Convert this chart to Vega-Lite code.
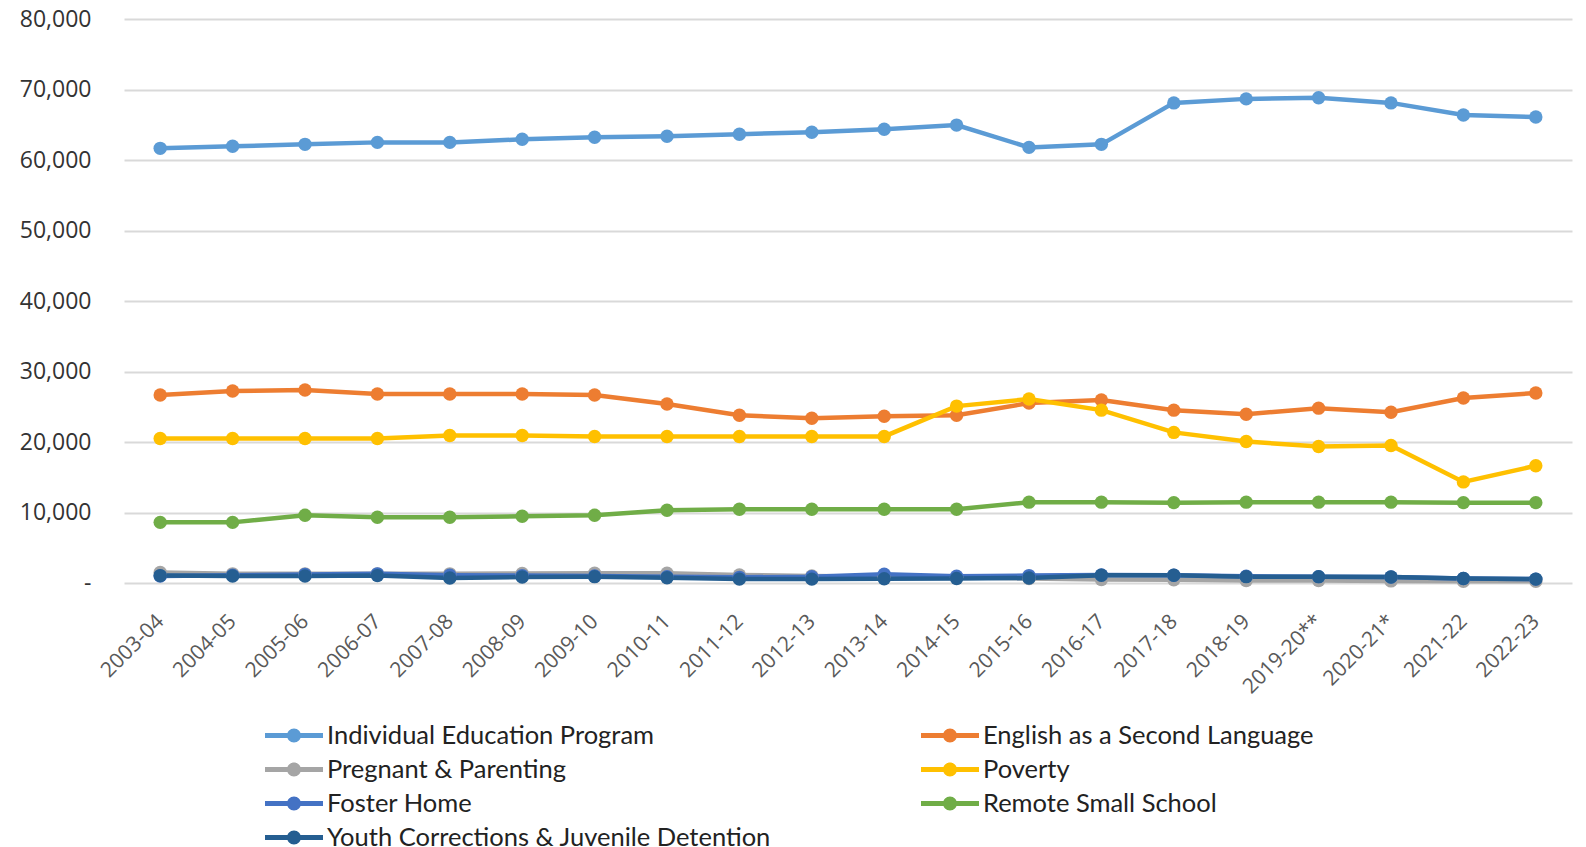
{
  "$schema": "https://vega.github.io/schema/vega-lite/v6.json",
  "width": 1448,
  "height": 564,
  "autosize": {"type": "none"},
  "padding": {"left": 124, "top": 19, "right": 14, "bottom": 264},
  "background": "white",
  "config": {"view": {"stroke": null}, "font": "Open Sans"},
  "data": {"values": [
    {"year": "2003-04", "series": "Individual Education Program", "value": 61650},
    {"year": "2004-05", "series": "Individual Education Program", "value": 61940},
    {"year": "2005-06", "series": "Individual Education Program", "value": 62220},
    {"year": "2006-07", "series": "Individual Education Program", "value": 62500},
    {"year": "2007-08", "series": "Individual Education Program", "value": 62500},
    {"year": "2008-09", "series": "Individual Education Program", "value": 62940},
    {"year": "2009-10", "series": "Individual Education Program", "value": 63230},
    {"year": "2010-11", "series": "Individual Education Program", "value": 63370},
    {"year": "2011-12", "series": "Individual Education Program", "value": 63660},
    {"year": "2012-13", "series": "Individual Education Program", "value": 63940},
    {"year": "2013-14", "series": "Individual Education Program", "value": 64370},
    {"year": "2014-15", "series": "Individual Education Program", "value": 64950},
    {"year": "2015-16", "series": "Individual Education Program", "value": 61790},
    {"year": "2016-17", "series": "Individual Education Program", "value": 62220},
    {"year": "2017-18", "series": "Individual Education Program", "value": 68100},
    {"year": "2018-19", "series": "Individual Education Program", "value": 68670},
    {"year": "2019-20**", "series": "Individual Education Program", "value": 68820},
    {"year": "2020-21*", "series": "Individual Education Program", "value": 68100},
    {"year": "2021-22", "series": "Individual Education Program", "value": 66380},
    {"year": "2022-23", "series": "Individual Education Program", "value": 66090},

    {"year": "2003-04", "series": "English as a Second Language", "value": 26670},
    {"year": "2004-05", "series": "English as a Second Language", "value": 27240},
    {"year": "2005-06", "series": "English as a Second Language", "value": 27380},
    {"year": "2006-07", "series": "English as a Second Language", "value": 26810},
    {"year": "2007-08", "series": "English as a Second Language", "value": 26810},
    {"year": "2008-09", "series": "English as a Second Language", "value": 26810},
    {"year": "2009-10", "series": "English as a Second Language", "value": 26670},
    {"year": "2010-11", "series": "English as a Second Language", "value": 25380},
    {"year": "2011-12", "series": "English as a Second Language", "value": 23800},
    {"year": "2012-13", "series": "English as a Second Language", "value": 23370},
    {"year": "2013-14", "series": "English as a Second Language", "value": 23660},
    {"year": "2014-15", "series": "English as a Second Language", "value": 23800},
    {"year": "2015-16", "series": "English as a Second Language", "value": 25520},
    {"year": "2016-17", "series": "English as a Second Language", "value": 25950},
    {"year": "2017-18", "series": "English as a Second Language", "value": 24520},
    {"year": "2018-19", "series": "English as a Second Language", "value": 23940},
    {"year": "2019-20**", "series": "English as a Second Language", "value": 24800},
    {"year": "2020-21*", "series": "English as a Second Language", "value": 24230},
    {"year": "2021-22", "series": "English as a Second Language", "value": 26240},
    {"year": "2022-23", "series": "English as a Second Language", "value": 26950},

    {"year": "2003-04", "series": "Pregnant & Parenting", "value": 1500},
    {"year": "2004-05", "series": "Pregnant & Parenting", "value": 1300},
    {"year": "2005-06", "series": "Pregnant & Parenting", "value": 1300},
    {"year": "2006-07", "series": "Pregnant & Parenting", "value": 1300},
    {"year": "2007-08", "series": "Pregnant & Parenting", "value": 1300},
    {"year": "2008-09", "series": "Pregnant & Parenting", "value": 1350},
    {"year": "2009-10", "series": "Pregnant & Parenting", "value": 1400},
    {"year": "2010-11", "series": "Pregnant & Parenting", "value": 1400},
    {"year": "2011-12", "series": "Pregnant & Parenting", "value": 1150},
    {"year": "2012-13", "series": "Pregnant & Parenting", "value": 1000},
    {"year": "2013-14", "series": "Pregnant & Parenting", "value": 900},
    {"year": "2014-15", "series": "Pregnant & Parenting", "value": 800},
    {"year": "2015-16", "series": "Pregnant & Parenting", "value": 650},
    {"year": "2016-17", "series": "Pregnant & Parenting", "value": 500},
    {"year": "2017-18", "series": "Pregnant & Parenting", "value": 450},
    {"year": "2018-19", "series": "Pregnant & Parenting", "value": 350},
    {"year": "2019-20**", "series": "Pregnant & Parenting", "value": 350},
    {"year": "2020-21*", "series": "Pregnant & Parenting", "value": 300},
    {"year": "2021-22", "series": "Pregnant & Parenting", "value": 250},
    {"year": "2022-23", "series": "Pregnant & Parenting", "value": 250},

    {"year": "2003-04", "series": "Poverty", "value": 20500},
    {"year": "2004-05", "series": "Poverty", "value": 20500},
    {"year": "2005-06", "series": "Poverty", "value": 20500},
    {"year": "2006-07", "series": "Poverty", "value": 20500},
    {"year": "2007-08", "series": "Poverty", "value": 20930},
    {"year": "2008-09", "series": "Poverty", "value": 20930},
    {"year": "2009-10", "series": "Poverty", "value": 20790},
    {"year": "2010-11", "series": "Poverty", "value": 20790},
    {"year": "2011-12", "series": "Poverty", "value": 20790},
    {"year": "2012-13", "series": "Poverty", "value": 20790},
    {"year": "2013-14", "series": "Poverty", "value": 20790},
    {"year": "2014-15", "series": "Poverty", "value": 25090},
    {"year": "2015-16", "series": "Poverty", "value": 26090},
    {"year": "2016-17", "series": "Poverty", "value": 24520},
    {"year": "2017-18", "series": "Poverty", "value": 21360},
    {"year": "2018-19", "series": "Poverty", "value": 20070},
    {"year": "2019-20**", "series": "Poverty", "value": 19350},
    {"year": "2020-21*", "series": "Poverty", "value": 19500},
    {"year": "2021-22", "series": "Poverty", "value": 14340},
    {"year": "2022-23", "series": "Poverty", "value": 16630},

    {"year": "2003-04", "series": "Foster Home", "value": 1000},
    {"year": "2004-05", "series": "Foster Home", "value": 1100},
    {"year": "2005-06", "series": "Foster Home", "value": 1200},
    {"year": "2006-07", "series": "Foster Home", "value": 1300},
    {"year": "2007-08", "series": "Foster Home", "value": 1100},
    {"year": "2008-09", "series": "Foster Home", "value": 1050},
    {"year": "2009-10", "series": "Foster Home", "value": 1000},
    {"year": "2010-11", "series": "Foster Home", "value": 900},
    {"year": "2011-12", "series": "Foster Home", "value": 800},
    {"year": "2012-13", "series": "Foster Home", "value": 900},
    {"year": "2013-14", "series": "Foster Home", "value": 1250},
    {"year": "2014-15", "series": "Foster Home", "value": 950},
    {"year": "2015-16", "series": "Foster Home", "value": 1050},
    {"year": "2016-17", "series": "Foster Home", "value": 1150},
    {"year": "2017-18", "series": "Foster Home", "value": 1100},
    {"year": "2018-19", "series": "Foster Home", "value": 950},
    {"year": "2019-20**", "series": "Foster Home", "value": 900},
    {"year": "2020-21*", "series": "Foster Home", "value": 850},
    {"year": "2021-22", "series": "Foster Home", "value": 650},
    {"year": "2022-23", "series": "Foster Home", "value": 550},

    {"year": "2003-04", "series": "Remote Small School", "value": 8600},
    {"year": "2004-05", "series": "Remote Small School", "value": 8600},
    {"year": "2005-06", "series": "Remote Small School", "value": 9610},
    {"year": "2006-07", "series": "Remote Small School", "value": 9320},
    {"year": "2007-08", "series": "Remote Small School", "value": 9320},
    {"year": "2008-09", "series": "Remote Small School", "value": 9460},
    {"year": "2009-10", "series": "Remote Small School", "value": 9610},
    {"year": "2010-11", "series": "Remote Small School", "value": 10320},
    {"year": "2011-12", "series": "Remote Small School", "value": 10470},
    {"year": "2012-13", "series": "Remote Small School", "value": 10470},
    {"year": "2013-14", "series": "Remote Small School", "value": 10470},
    {"year": "2014-15", "series": "Remote Small School", "value": 10470},
    {"year": "2015-16", "series": "Remote Small School", "value": 11470},
    {"year": "2016-17", "series": "Remote Small School", "value": 11470},
    {"year": "2017-18", "series": "Remote Small School", "value": 11400},
    {"year": "2018-19", "series": "Remote Small School", "value": 11470},
    {"year": "2019-20**", "series": "Remote Small School", "value": 11470},
    {"year": "2020-21*", "series": "Remote Small School", "value": 11470},
    {"year": "2021-22", "series": "Remote Small School", "value": 11400},
    {"year": "2022-23", "series": "Remote Small School", "value": 11400},

    {"year": "2003-04", "series": "Youth Corrections & Juvenile Detention", "value": 1050},
    {"year": "2004-05", "series": "Youth Corrections & Juvenile Detention", "value": 1000},
    {"year": "2005-06", "series": "Youth Corrections & Juvenile Detention", "value": 1000},
    {"year": "2006-07", "series": "Youth Corrections & Juvenile Detention", "value": 1050},
    {"year": "2007-08", "series": "Youth Corrections & Juvenile Detention", "value": 700},
    {"year": "2008-09", "series": "Youth Corrections & Juvenile Detention", "value": 850},
    {"year": "2009-10", "series": "Youth Corrections & Juvenile Detention", "value": 900},
    {"year": "2010-11", "series": "Youth Corrections & Juvenile Detention", "value": 750},
    {"year": "2011-12", "series": "Youth Corrections & Juvenile Detention", "value": 550},
    {"year": "2012-13", "series": "Youth Corrections & Juvenile Detention", "value": 550},
    {"year": "2013-14", "series": "Youth Corrections & Juvenile Detention", "value": 600},
    {"year": "2014-15", "series": "Youth Corrections & Juvenile Detention", "value": 650},
    {"year": "2015-16", "series": "Youth Corrections & Juvenile Detention", "value": 700},
    {"year": "2016-17", "series": "Youth Corrections & Juvenile Detention", "value": 1100},
    {"year": "2017-18", "series": "Youth Corrections & Juvenile Detention", "value": 1100},
    {"year": "2018-19", "series": "Youth Corrections & Juvenile Detention", "value": 900},
    {"year": "2019-20**", "series": "Youth Corrections & Juvenile Detention", "value": 900},
    {"year": "2020-21*", "series": "Youth Corrections & Juvenile Detention", "value": 850},
    {"year": "2021-22", "series": "Youth Corrections & Juvenile Detention", "value": 650},
    {"year": "2022-23", "series": "Youth Corrections & Juvenile Detention", "value": 550}
  ]},
  "mark": {"type": "line", "strokeWidth": 4.5, "point": {"filled": true, "size": 180, "opacity": 1}},
  "encoding": {
    "x": {
      "field": "year", "type": "ordinal", "sort": null, "title": null,
      "scale": {"type": "point", "padding": 0.5},
      "axis": {"domain": false, "ticks": false, "grid": false, "labelAngle": -45, "labelAlign": "right", "labelBaseline": "middle", "labelPadding": 35, "labelFontSize": 21, "labelColor": "#595959", "labelFont": "Open Sans"}
    },
    "y": {
      "field": "value", "type": "quantitative", "title": null,
      "scale": {"domain": [0, 80000], "nice": false},
      "axis": {"values": [0, 10000, 20000, 30000, 40000, 50000, 60000, 70000, 80000], "domain": false, "ticks": false, "grid": true, "gridColor": "#d9d9d9", "gridWidth": 2, "labelPadding": 33, "labelFontSize": 23, "labelColor": "#333333", "labelFont": "Open Sans", "labelExpr": "datum.value == 0 ? '-' : format(datum.value, ',')"}
    },
    "color": {
      "field": "series", "type": "nominal",
      "scale": {
        "domain": ["Individual Education Program", "English as a Second Language", "Pregnant & Parenting", "Poverty", "Foster Home", "Remote Small School", "Youth Corrections & Juvenile Detention"],
        "range": ["#5B9BD5", "#ED7D31", "#A5A5A5", "#FFC000", "#4472C4", "#70AD47", "#255E91"]
      },
      "legend": {
        "title": null, "orient": "none", "legendX": 170, "legendY": 702, "direction": "horizontal", "columns": 2,
        "columnPadding": 149, "rowPadding": 6, "labelFont": "Lato", "labelFontSize": 25.5, "labelColor": "#222222", "labelOffset": 4, "labelLimit": 700,
        "symbolType": "M-3,-0.18H1V0.18H-3Z M-1.48,0A0.48,0.48 0 1,1 -0.52,0A0.48,0.48 0 1,1 -1.48,0Z",
        "symbolSize": 841, "symbolStrokeWidth": 0, "symbolOpacity": 1,
        "encode": {"symbols": {"update": {"fill": {"scale": "color", "field": "value"}, "strokeWidth": {"value": 0}}}}
      }
    },
    "order": {"value": 0}
  }
}
